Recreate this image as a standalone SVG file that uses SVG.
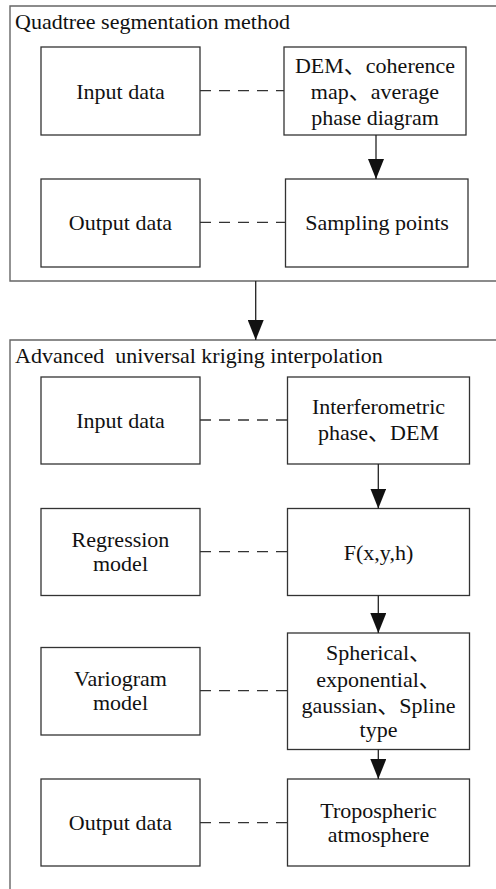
<svg xmlns="http://www.w3.org/2000/svg" width="496" height="889" viewBox="0 0 496 889">
  <style>
    .frame { fill: none; stroke: #666; stroke-width: 1.4; }
    .box { fill: #fff; stroke: #333; stroke-width: 1.3; }
    .t { font-family: "Liberation Serif", "Times New Roman", "Noto Sans CJK SC", serif; font-size: 22px; fill: #111; }
    .c { text-anchor: middle; }
    .dash { stroke: #333; stroke-width: 1.3; stroke-dasharray: 11 8; fill: none; }
    .flow { stroke: #222; stroke-width: 1.3; fill: none; marker-end: url(#head); }
  </style>
  <defs>
    <marker id="head" viewBox="0 0 20 16" refX="20" refY="8" markerWidth="20" markerHeight="16" markerUnits="userSpaceOnUse" orient="auto">
      <path d="M0,0 L20,8 L0,16 Z" fill="#111"/>
    </marker>
  </defs>

  <!-- stage frames -->
  <g id="stage-quadtree">
    <path class="frame" d="M500,6 H10 V281 H500"/>
    <text class="t" x="15" y="29">Quadtree segmentation method</text>
  </g>
  <g id="stage-kriging">
    <path class="frame" d="M500,340 H10 V895"/>
    <text class="t" x="15" y="363" xml:space="preserve">Advanced  universal kriging interpolation</text>
  </g>

  <!-- quadtree stage nodes -->
  <g id="q-input-label">
    <rect class="box" x="41" y="47" width="159" height="88"/>
    <text class="t c" x="120.5" y="98.5">Input data</text>
  </g>
  <g id="q-input">
    <rect class="box" x="284" y="47" width="182" height="88"/>
    <text class="t c" x="375" y="72.5">DEM、coherence</text>
    <text class="t c" x="375" y="98.5">map、average</text>
    <text class="t c" x="375" y="124.5">phase diagram</text>
  </g>
  <g id="q-output-label">
    <rect class="box" x="41" y="179" width="159" height="88"/>
    <text class="t c" x="120.5" y="230">Output data</text>
  </g>
  <g id="q-output">
    <rect class="box" x="285.5" y="179" width="182.5" height="88"/>
    <text class="t c" x="377" y="230">Sampling points</text>
  </g>

  <!-- kriging stage nodes -->
  <g id="k-input-label">
    <rect class="box" x="41" y="377" width="159" height="87"/>
    <text class="t c" x="120.5" y="428">Input data</text>
  </g>
  <g id="k-input">
    <rect class="box" x="287.5" y="377" width="182" height="87"/>
    <text class="t c" x="378.5" y="413.5">Interferometric</text>
    <text class="t c" x="378.5" y="440">phase、DEM</text>
  </g>
  <g id="k-regression-label">
    <rect class="box" x="41" y="508.5" width="159" height="87"/>
    <text class="t c" x="120.5" y="546.5">Regression</text>
    <text class="t c" x="120.5" y="571">model</text>
  </g>
  <g id="k-regression">
    <rect class="box" x="287.5" y="508.5" width="182" height="87"/>
    <text class="t c" x="378.5" y="559.5">F(x,y,h)</text>
  </g>
  <g id="k-variogram-label">
    <rect class="box" x="41" y="647.5" width="159" height="87.5"/>
    <text class="t c" x="120.5" y="686">Variogram</text>
    <text class="t c" x="120.5" y="710">model</text>
  </g>
  <g id="k-variogram">
    <rect class="box" x="287.5" y="633" width="182" height="116.5"/>
    <text class="t c" x="378.5" y="659.5">Spherical、</text>
    <text class="t c" x="378.5" y="686.5">exponential、</text>
    <text class="t c" x="378.5" y="713">gaussian、Spline</text>
    <text class="t c" x="378.5" y="737">type</text>
  </g>
  <g id="k-output-label">
    <rect class="box" x="41" y="779" width="159" height="87"/>
    <text class="t c" x="120.5" y="829.5">Output data</text>
  </g>
  <g id="k-output">
    <rect class="box" x="287.5" y="779" width="182" height="87"/>
    <text class="t c" x="378.5" y="817.5">Tropospheric</text>
    <text class="t c" x="378.5" y="842">atmosphere</text>
  </g>

  <!-- connectors -->
  <g id="connectors">
    <line class="dash" x1="200" y1="90.7" x2="284" y2="90.7"/>
    <line class="dash" x1="200" y1="222.3" x2="285.5" y2="222.3"/>
    <line class="dash" x1="200" y1="420" x2="287.5" y2="420"/>
    <line class="dash" x1="200" y1="551.7" x2="287.5" y2="551.7"/>
    <line class="dash" x1="200" y1="690.7" x2="287.5" y2="690.7"/>
    <line class="dash" x1="200" y1="822.7" x2="287.5" y2="822.7"/>

    <line class="flow" x1="376" y1="135" x2="376" y2="179"/>
    <line class="flow" x1="255.7" y1="281" x2="255.7" y2="340"/>
    <line class="flow" x1="378.3" y1="464" x2="378.3" y2="508.5"/>
    <line class="flow" x1="378.3" y1="595.5" x2="378.3" y2="633"/>
    <line class="flow" x1="378.3" y1="749.5" x2="378.3" y2="779"/>
  </g>
</svg>
